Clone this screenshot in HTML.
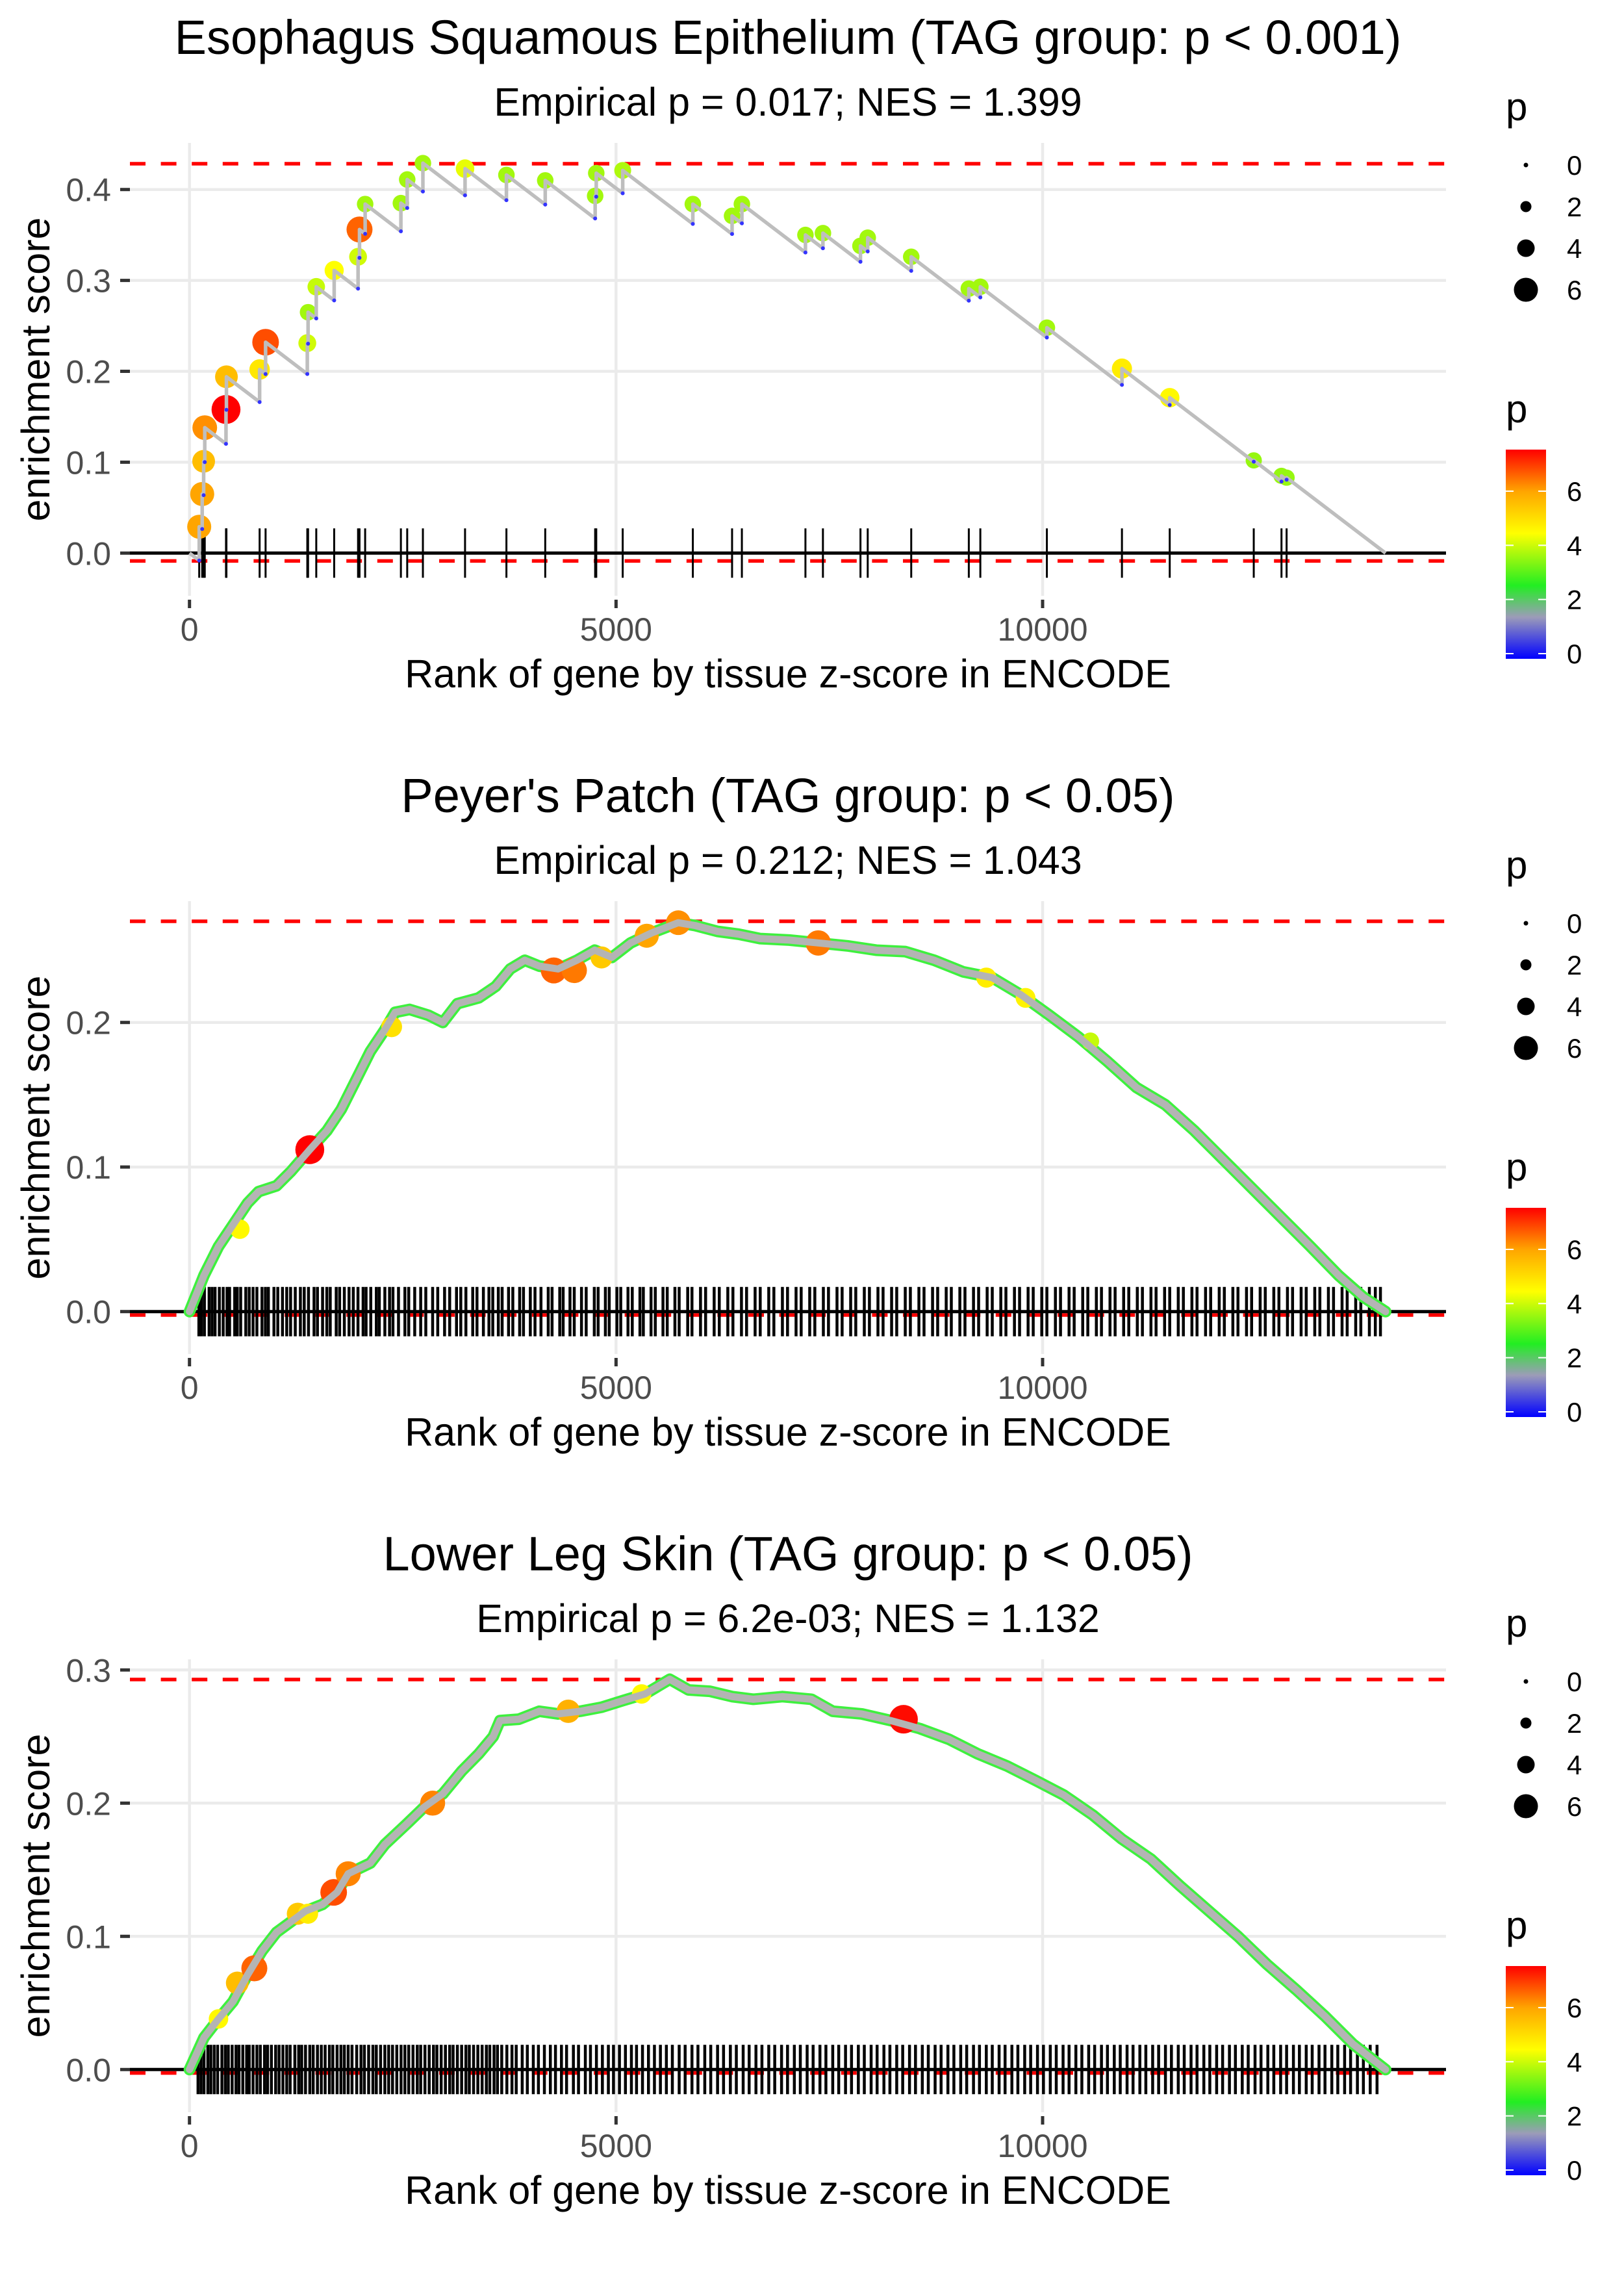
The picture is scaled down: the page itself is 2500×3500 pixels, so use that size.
<!DOCTYPE html>
<html><head><meta charset="utf-8"><title>Enrichment plots</title>
<style>
html,body{margin:0;padding:0;background:#fff;}
svg{display:block;}
text{font-family:"Liberation Sans",sans-serif;}
</style></head>
<body>
<svg id="chart" xmlns="http://www.w3.org/2000/svg" width="2500" height="3500" viewBox="0 0 2500 3500">
<defs>
<linearGradient id="pgrad" x1="0" y1="1" x2="0" y2="0">
<stop offset="0" stop-color="#0000ff"/>
<stop offset="0.2" stop-color="#9c9cb8"/>
<stop offset="0.35" stop-color="#22ee22"/>
<stop offset="0.6" stop-color="#ffff00"/>
<stop offset="0.8" stop-color="#ffa500"/>
<stop offset="1" stop-color="#ff0000"/>
</linearGradient>
</defs>
<rect x="0" y="0" width="2500" height="3500" fill="#fff"/>
<g id="p0">
<text x="1213" y="83" font-size="74" text-anchor="middle" fill="#000">Esophagus Squamous Epithelium (TAG group: p &lt; 0.001)</text>
<text x="1213" y="178" font-size="61" text-anchor="middle" fill="#000">Empirical p = 0.017; NES = 1.399</text>
</g>
<g id="p1">
<text x="1213" y="1250" font-size="74" text-anchor="middle" fill="#000">Peyer's Patch (TAG group: p &lt; 0.05)</text>
<text x="1213" y="1345" font-size="61" text-anchor="middle" fill="#000">Empirical p = 0.212; NES = 1.043</text>
</g>
<g id="p2">
<text x="1213" y="2417" font-size="74" text-anchor="middle" fill="#000">Lower Leg Skin (TAG group: p &lt; 0.05)</text>
<text x="1213" y="2512" font-size="61" text-anchor="middle" fill="#000">Empirical p = 6.2e-03; NES = 1.132</text>
</g>
</svg>
<script>
// ---------- data ----------
const p1HitRank=[114,149,166,179,428,433,822,892,1381,1390,1486,1696,1976,1993,2059,2478,2552,2736,3230,3715,4170,4755,4768,5078,5900,6360,6475,7220,7425,7865,7950,8460,9135,9270,10050,10930,11490,12475,12800,12860];
const p1HitES=[0.029,0.065,0.101,0.138,0.158,0.194,0.202,0.232,0.231,0.265,0.293,0.311,0.326,0.356,0.384,0.385,0.411,0.429,0.423,0.416,0.410,0.393,0.418,0.421,0.384,0.371,0.384,0.350,0.352,0.338,0.347,0.326,0.291,0.293,0.248,0.203,0.171,0.102,0.085,0.083];
const p1HitP=[6.0,6.0,5.6,6.2,7.5,5.6,4.9,6.8,4.1,3.7,4.0,4.5,4.1,6.6,3.7,3.7,3.7,3.7,4.3,3.7,3.7,3.7,3.7,3.8,3.7,3.7,3.7,3.7,3.7,3.7,3.7,3.7,3.7,3.7,3.7,4.8,4.6,3.6,3.6,3.6];
const p1EndRank=14020;

const p2CurveRank=[0,170,340,510,680,810,1020,1190,1410,1610,1780,1950,2120,2290,2410,2580,2800,2970,3140,3390,3590,3760,3930,4100,4320,4540,4750,4950,5170,5420,5730,5930,6190,6440,6690,7030,7370,7710,8050,8390,8730,9070,9410,9750,10080,10420,10760,11100,11440,11780,12120,12460,12800,13140,13470,13760,14020];
const p2CurveES=[0,0.025,0.045,0.06,0.075,0.083,0.087,0.097,0.112,0.125,0.14,0.16,0.18,0.195,0.207,0.209,0.205,0.20,0.213,0.217,0.225,0.237,0.243,0.239,0.237,0.243,0.25,0.245,0.255,0.262,0.269,0.267,0.263,0.261,0.258,0.257,0.255,0.253,0.25,0.249,0.243,0.235,0.231,0.219,0.205,0.19,0.173,0.155,0.143,0.125,0.105,0.085,0.065,0.045,0.025,0.01,0];
const p2BigRank=[590,1410,2370,4270,4510,4830,5360,5730,7370,9340,9800,10560];
const p2BigES=[0.057,0.112,0.197,0.236,0.236,0.245,0.26,0.269,0.255,0.231,0.217,0.187];
const p2BigP=[4.6,7.5,5.0,6.6,6.4,5.4,6.0,6.2,6.4,4.8,4.7,4.0];
const p2Rug=[110,140,175,230,265,300,350,395,440,470,530,560,600,660,700,745,790,850,890,925,990,1035,1090,1140,1185,1240,1300,1345,1395,1460,1500,1560,1610,1650,1720,1760,1815,1870,1920,1975,2035,2070,2125,2190,2225,2290,2345,2385,2450,2525,2570,2640,2710,2770,2850,2910,2990,3050,3130,3180,3240,3320,3370,3445,3510,3555,3620,3665,3740,3790,3870,3915,3995,4050,4120,4205,4250,4340,4380,4460,4510,4595,4650,4745,4790,4875,4920,5010,5055,5140,5190,5280,5320,5410,5460,5550,5600,5690,5740,5840,5890,5990,6050,6150,6210,6310,6370,6470,6530,6630,6690,6790,6850,6950,7010,7110,7170,7270,7330,7430,7490,7590,7650,7750,7810,7910,7970,8070,8130,8230,8290,8390,8450,8550,8610,8710,8770,8870,8930,9030,9090,9190,9250,9350,9410,9510,9570,9670,9730,9830,9890,9990,10050,10150,10210,10310,10370,10470,10530,10630,10690,10790,10850,10950,11010,11110,11170,11270,11330,11430,11490,11590,11650,11750,11810,11910,11970,12070,12130,12230,12290,12390,12450,12550,12610,12710,12770,12870,12930,13030,13090,13190,13250,13350,13410,13510,13570,13670,13730,13830,13900,13960];

const p3CurveRank=[0,170,340,510,680,850,1020,1190,1360,1560,1730,1860,2120,2290,2540,2750,2970,3190,3390,3560,3640,3860,4100,4320,4580,4830,5080,5340,5630,5850,6100,6360,6610,6950,7290,7540,7880,8220,8560,8900,9240,9580,9920,10250,10590,10930,11270,11610,11950,12290,12630,12970,13310,13640,14020];
const p3CurveES=[0,0.024,0.038,0.051,0.071,0.089,0.103,0.111,0.119,0.124,0.133,0.147,0.155,0.169,0.184,0.197,0.207,0.224,0.237,0.25,0.262,0.263,0.269,0.267,0.269,0.272,0.277,0.282,0.293,0.285,0.284,0.28,0.278,0.28,0.278,0.269,0.267,0.262,0.256,0.248,0.237,0.228,0.217,0.206,0.191,0.173,0.158,0.138,0.119,0.1,0.079,0.06,0.04,0.019,0];
const p3BigRank=[340,560,760,1270,1390,1690,1860,2850,4440,5300,8370];
const p3BigES=[0.038,0.065,0.076,0.117,0.117,0.133,0.147,0.2,0.269,0.282,0.263];
const p3BigP=[4.6,5.6,6.6,5.4,4.8,6.8,6.3,6.3,5.8,4.6,7.4];
const p3Rug=[100,135,170,215,250,290,330,380,420,455,500,545,580,625,670,700,745,790,830,880,915,960,1010,1050,1095,1140,1180,1235,1280,1315,1360,1410,1450,1500,1545,1590,1640,1680,1730,1775,1815,1860,1905,1960,2010,2050,2100,2150,2190,2240,2290,2335,2380,2430,2480,2525,2570,2620,2670,2710,2760,2810,2860,2900,2950,3000,3050,3090,3140,3190,3240,3280,3330,3380,3430,3480,3520,3570,3610,3660,3720,3780,3830,3900,3960,4030,4090,4160,4230,4290,4360,4420,4500,4560,4640,4700,4770,4840,4910,4970,5040,5110,5180,5240,5310,5380,5450,5520,5590,5660,5740,5810,5890,5960,6040,6110,6190,6260,6340,6410,6490,6560,6640,6710,6790,6860,6940,7010,7090,7160,7240,7310,7390,7460,7540,7610,7690,7760,7840,7910,7990,8060,8140,8210,8290,8360,8440,8510,8590,8660,8740,8810,8890,8960,9040,9110,9190,9260,9340,9410,9490,9560,9640,9710,9790,9860,9940,10010,10090,10160,10240,10310,10390,10460,10540,10610,10690,10760,10840,10910,10990,11060,11140,11210,11290,11360,11440,11510,11590,11660,11740,11810,11890,11960,12040,12110,12190,12260,12340,12410,12490,12560,12640,12710,12790,12860,12940,13010,13090,13160,13240,13310,13390,13460,13540,13610,13690,13760,13840,13920];

const xTicks=[0,5000,10000];
const xTickLabels=["0","5000","10000"];
const p1YTicks=[0,0.1,0.2,0.3,0.4];
const p2YTicks=[0,0.1,0.2];
const p3YTicks=[0,0.1,0.2,0.3];
const p1Ref=[0.4284,-0.0086];
const p2Ref=[0.270,-0.0024];
const p3Ref=[0.2928,-0.0026];
const sizeLegendVals=[0,2,4,6];
const colorLegendVals=[0,2,4,6];

// ---------- drawing ----------
const NS="http://www.w3.org/2000/svg";
const svg=document.getElementById('chart');
const PL=200, PR=2226;
const PANEL_OFF=1167;
function xPx(r){return 291.7+r*0.13133;}
function mk(tag,attrs,parent){const e=document.createElementNS(NS,tag);for(const k in attrs)e.setAttribute(k,attrs[k]);(parent||svg).appendChild(e);return e;}
const stops=[[0,[0,0,255]],[1.5,[156,156,184]],[2.6,[34,238,34]],[4.5,[255,255,0]],[6,[255,165,0]],[7.5,[255,0,0]]];
function pColor(p){
  if(p<=stops[0][0])return 'rgb(0,0,255)';
  for(let i=1;i<stops.length;i++){
    if(p<=stops[i][0]){const a=stops[i-1],b=stops[i];const t=(p-a[0])/(b[0]-a[0]);
      const c=a[1].map((v,j)=>Math.round(v+(b[1][j]-v)*t));return 'rgb('+c.join(',')+')';}
  }
  return 'rgb(255,0,0)';
}
function pRad(p){return 3.5+2.5*p;}

function drawPanel(k,y0,perTenth,yTicks,ref,name){
  const off=k*PANEL_OFF;
  const top=220+off, bot=917+off;
  const yPx=v=>y0-v*perTenth*10;
  const g=mk('g',{});
  
  
  yTicks.forEach(t=>{
    const l=mk('line',{x1:PL,x2:PR,y1:yPx(t),y2:yPx(t),stroke:'#ebebeb','stroke-width':4.5},g);
    
    
    const tk=mk('line',{x1:185,x2:200,y1:yPx(t),y2:yPx(t),stroke:'#333','stroke-width':5},g);
    
    
    const tx=mk('text',{x:171,y:yPx(t)+18,'font-size':50,'text-anchor':'end',fill:'#4d4d4d'},g);
    tx.textContent=t.toFixed(1);
    
    
  });
  xTicks.forEach((t,i)=>{
    const l=mk('line',{x1:xPx(t),x2:xPx(t),y1:top,y2:bot,stroke:'#ebebeb','stroke-width':4.5},g);
    
    
    const tk=mk('line',{x1:xPx(t),x2:xPx(t),y1:bot+6,y2:bot+19,stroke:'#333','stroke-width':5},g);
    
    
    const tx=mk('text',{x:xPx(t),y:986+off,'font-size':50,'text-anchor':'middle',fill:'#4d4d4d'},g);
    tx.textContent=xTickLabels[i];
    
    
  });
  const yt=mk('text',{x:0,y:0,'font-size':61,'text-anchor':'middle',fill:'#000',transform:'translate(76,'+((top+bot)/2)+') rotate(-90)'},g);
  yt.textContent='enrichment score';
  
  
  const xt=mk('text',{x:1213,y:1058+off,'font-size':61,'text-anchor':'middle',fill:'#000'},g);
  xt.textContent='Rank of gene by tissue z-score in ENCODE';
  
  
  ref.forEach(v=>{
    const l=mk('line',{x1:PL,x2:PR,y1:yPx(v),y2:yPx(v),stroke:'#ff0000','stroke-width':5.5,'stroke-dasharray':'24 23.6'},g);
    
    
  });
  const z=mk('line',{x1:PL,x2:PR,y1:yPx(0),y2:yPx(0),stroke:'#000','stroke-width':5},g);
  
  
  return {g,yPx,off};
}

function drawLegend(k){
  const off=k*PANEL_OFF;
  const g=mk('g',{});
  
  
  const t1=mk('text',{x:2318,y:185+off,'font-size':60,fill:'#000'},g);
  t1.textContent='p';
  
  
  sizeLegendVals.forEach((v,i)=>{
    const cy=254+i*64+off;
    const c=mk('circle',{cx:2349,cy:cy,r:pRad(v),fill:'#000'},g);
    
    
    const t=mk('text',{x:2412,y:cy+15,'font-size':42,fill:'#000'},g);
    t.textContent=String(v);
    
    
  });
  const t2=mk('text',{x:2318,y:650+off,'font-size':60,fill:'#000'},g);
  t2.textContent='p';
  
  
  const barTop=692+off, barBot=1014+off, bx=2318, bw=62;
  const bar=mk('rect',{x:bx,y:barTop,width:bw,height:barBot-barTop,fill:'url(#pgrad)'},g);
  
  
  colorLegendVals.forEach(v=>{
    const y=1006+off-v*41.67;
    const a=mk('line',{x1:bx,x2:bx+12,y1:y,y2:y,stroke:'#fff','stroke-width':2},g);
    
    
    const b=mk('line',{x1:bx+bw-12,x2:bx+bw,y1:y,y2:y,stroke:'#fff','stroke-width':2},g);
    
    
    const t=mk('text',{x:2412,y:y+15,'font-size':42,fill:'#000'},g);
    t.textContent=String(v);
    
    
  });
}

function drawRug(g,yPx,ranks,w){
  ranks.forEach(r=>{
    const l=mk('line',{x1:xPx(r),x2:xPx(r),y1:yPx(0)-38,y2:yPx(0)+38,stroke:'#000','stroke-width':w},g);
    
    
  });
}

(function(){
  const P=drawPanel(0,851.3,139.9,p1YTicks,p1Ref,'esophagus');
  const g=P.g, yPx=P.yPx;
  drawRug(g,yPx,p1HitRank,3);
  const last=p1HitES[p1HitES.length-1], lastR=p1HitRank[p1HitRank.length-1];
  const slope=last/(p1EndRank-lastR);
  let prevR=0, prevE=0;
  const bottoms=[];
  p1HitRank.forEach((r,i)=>{bottoms.push(prevE-slope*(r-prevR));prevR=r;prevE=p1HitES[i];});
  p1HitRank.forEach((r,i)=>{
    const c=mk('circle',{cx:xPx(r),cy:yPx(p1HitES[i]),r:pRad(p1HitP[i]),fill:pColor(p1HitP[i])},g);
    
    
  });
  let d='M'+xPx(0)+' '+yPx(0);
  p1HitRank.forEach((r,i)=>{d+=' L'+xPx(r)+' '+yPx(bottoms[i])+' L'+xPx(r)+' '+yPx(p1HitES[i]);});
  d+=' L'+xPx(p1EndRank)+' '+yPx(0);
  const path=mk('path',{d:d,fill:'none',stroke:'#bebebe','stroke-width':5.5,'stroke-linejoin':'round'},g);
  
  
  p1HitRank.forEach((r,i)=>{
    const c=mk('circle',{cx:xPx(r),cy:yPx(bottoms[i]),r:3,fill:'#3333ff'},g);
    
    
  });
  drawLegend(0);
})();

function drawDense(k,y0,perTenth,yTicks,ref,name,cr,ce,br,be,bp,rug){
  const P=drawPanel(k,y0,perTenth,yTicks,ref,name);
  const g=P.g, yPx=P.yPx;
  drawRug(g,yPx,rug,4.5);
  const pts=cr.map((r,i)=>xPx(r)+','+yPx(ce[i])).join(' ');
  const gl=mk('polyline',{points:pts,fill:'none',stroke:'#3ef03e','stroke-width':18,'stroke-linejoin':'round','stroke-linecap':'round'},g);
  
  
  br.forEach((r,i)=>{
    const c=mk('circle',{cx:xPx(r),cy:yPx(be[i]),r:pRad(bp[i]),fill:pColor(bp[i])},g);
    
    
  });
  const ln=mk('polyline',{points:pts,fill:'none',stroke:'#b4b4b4','stroke-width':11,'stroke-linejoin':'round','stroke-linecap':'round'},g);
  
  
  drawLegend(k);
}
drawDense(1,2018.7,222.5,p2YTicks,p2Ref,'peyers-patch',p2CurveRank,p2CurveES,p2BigRank,p2BigES,p2BigP,p2Rug);
drawDense(2,3185.3,205,p3YTicks,p3Ref,'lower-leg-skin',p3CurveRank,p3CurveES,p3BigRank,p3BigES,p3BigP,p3Rug);
</script>
</body></html>
